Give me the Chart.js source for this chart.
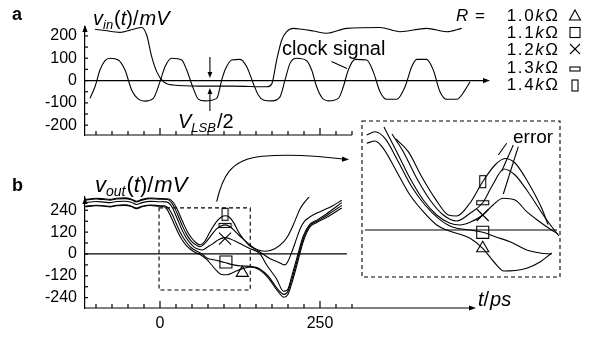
<!DOCTYPE html>
<html><head><meta charset="utf-8">
<script src="https://cdn.jsdelivr.net/npm/chart.js@4.4.1/dist/chart.umd.min.js"></script>
<style>
html,body{margin:0;padding:0;background:#fff;}
#wrap{position:relative;width:596px;height:342px;background:#fff;overflow:hidden;}
canvas{position:absolute;left:0;top:0;}
</style></head><body>
<div id="wrap">
<canvas id="ca" width="596" height="342"></canvas>
<canvas id="cb" width="596" height="342"></canvas>
<canvas id="ci" width="596" height="342"></canvas>
</div>
<script>
// ---------------- DATA ----------------
// time axis (ps) shared by panels a and b
const T_MIN = -117.1875, T_MAX = 512.5;
const timeTicks = [-100,-75,-50,-25,0,25,50,75,100,125,150,175,200,225,250,275,300];
const timeTickLabels = [0, 250];
// panel a : input signal v_in(t) [mV]
const vinT = [-101.6,-85.9,-62.5,-41.7,-28.6,-20.8,-13,-5.2,5.2,20.8,62.5,114.6,166.7,174.5,182.3,190.2,197.9,208.3,221.4,239.6,260.4,291.7,343.8,375,416.7,448,471.4];
const vinV = [230,224,216,230,238,204,107,40,-5,-20,-25,-25,-28,-16,92,182,219,234,230,222,212,234,238,219,234,219,234];
// panel a : clock signal [mV]
const clockT = [-109.4,-101.6,-93.8,-85.9,-78.1,-65.2,-54.7,-44.2,-33.9,-23.4,
  -10.5,0,7.8,18.3,33.9,41.7,52,59.8,70.3,88.6,
  96.4,101.6,112,125,135.5,145.8,153.6,161.4,174.5,187.5,
  195.3,203.1,213.6,229.2,237,244.8,252.7,263,278.6,286.4,
  294.2,304.7,323,333.3,343.8,354.2,369.8,382.8,393.3,401.1,
  416.7,427,437.5,448,463.6,476.6,484.4];
const clockV = [-80,-28,47,89,100,92,47,-43,-83,-92,
  -80,-5,62,100,92,47,-35,-83,-91,-80,
  2,47,92,95,62,-13,-65,-87,-91,-73,
  2,77,100,89,47,-28,-75,-91,-80,-28,
  47,95,92,39,-50,-84,-84,-28,62,95,
  95,47,-50,-84,-84,-43,-5];
const aTicksY = [-200,-150,-100,-50,0,50,100,150,200];
const aLabelsY = [-200,-100,0,100,200];
// panel b : output signal v_out(t) [mV] for R = 1.4, 1.3, 1.2, 1.1, 1.0 kOhm
const r14T = [-117,-100,-88,-78,-68,-55,-45,-37,-28,-15,0,14,20,26,32,38,44,50,56,62,70,78,88,96,102,108,115,125,140,155,165,180,193,200,208,219,226,234];
const r14V = [300,306,303,300,306,308,302,290,300,307,305,302,287,252,205,157,115,85,63,50,70,121,176,203,210,203,172,108,45,20,15,30,66,100,158,249,285,318];
const r13T = [-117,-100,-88,-78,-68,-55,-45,-37,-28,-15,0,12,18,24,30,36,42,48,54,62,70,78,88,96,102,110,118,128,141,156,172,185,195,200,206,213,219,226,234,245,255,270,284];
const r13V = [296,302,299,296,302,304,298,286,296,303,301,299,282,245,196,146,105,75,55,40,58,93,136,155,160,148,122,88,48,11,-26,-45,-60,-40,11,80,139,180,203,225,240,265,295];
const r12T = [-117,-100,-88,-78,-68,-55,-45,-37,-28,-15,0,10,16,22,28,34,40,46,52,58,66,75,83,92,101,110,120,130,141,156,167,182,193,199,206,214,224,234,245,260,284];
const r12V = [282,288,285,282,288,290,284,272,282,289,287,286,272,235,185,135,95,65,42,28,22,40,57,80,90,82,66,48,29,2,-62,-136,-205,-198,-120,-20,100,163,186,220,282];
const r11T = [-117,-100,-88,-78,-68,-55,-45,-37,-28,-15,0,7,13,19,25,31,37,43,49,56,65,73,88,101,115,128,141,156,170,182,194,200,206,214,224,234,245,260,284];
const r11V = [262,268,265,262,268,270,264,252,262,269,265,264,252,218,170,124,86,56,34,18,2,-22,-35,-47,-60,-66,-68,-82,-125,-185,-222,-205,-140,-40,85,155,180,210,267];
const r10T = [-117,-100,-88,-78,-68,-55,-45,-37,-28,-15,0,5,11,17,23,29,35,41,47,55,65,73,80,88,96,105,115,128,141,156,170,183,194,200,206,214,224,234,245,260,284];
const r10V = [259,265,262,259,265,267,261,249,259,266,262,261,245,205,158,112,75,47,27,8,-8,-30,-58,-90,-113,-114,-100,-82,-72,-88,-135,-200,-238,-222,-160,-60,70,147,173,200,253];
const bTicksY = [-240,-180,-120,-60,0,60,120,180,240];
const bLabelsY = [-240,-120,0,120,240];
// markers in panel b (order: 1.4, 1.3, 1.2, 1.1, 1.0 kOhm)
const markT = [101.6,101.6,101.6,103,128.6];
const markV = [218,157,84,-44,-104];
// inset (zoomed view of the dashed box)
const i14T = [23.8,32.4,41.8,51.1,60.4,66.3,75.6,84.5,93.1,100.1,107.1,115.3,125.8,130.2];
const i14V = [200.2,172.3,117.3,69.7,33,30.8,59.4,106.3,143,157.3,147.4,110,47.7,12.1];
const i13T = [21,28.9,38.3,47.6,56.9,66.3,75.6,84.5,91,99.4,107.1,115.3,129.3,137.9];
const i13V = [211.2,172.3,113.7,66,33,19.8,36.7,60,96.8,134.2,121,88,22,-13.2];
const i12T = [15.4,24.3,33.6,42.9,52.3,61.6,68.6,75.6,84.5,91.7,98.7,107.1,115.3,124.6,131.6,137.2];
const i12V = [226.6,172.3,113.7,66,33,14.7,11,16.9,33,55,69.7,66,40.3,17.6,2.2,-8.8];
const i11T = [3.3,9.1,16.1,25.4,34.8,44.1,53.4,62.8,75.6,84.5,93.8,103.6,115.3,124.6,132.8];
const i11V = [209,216.3,201.7,150.3,95.3,55,25.7,7.3,0,-5.1,-15.4,-25.7,-44,-50.6,-52.8];
const i10T = [3.3,9.1,14.9,24.3,33.6,42.9,52.3,59.3,75.6,84.5,92.4,99.4,107.1,115.3,124.6,132.8];
const i10V = [190.7,195.8,179.7,128.3,77,40.3,11,0,-18.3,-40.3,-70.4,-90.2,-89.1,-84.3,-70.4,-50.6];
const insetMarkT = [84.5,84.5,84.5,84.5,84.5];
const insetMarkV = [106.3,60,33,-5.1,-40.3];
// legend
const resistances = ['1.0','1.1','1.2','1.3','1.4'];

// ---------------- HELPERS ----------------
const FONT = '"Liberation Sans", Arial, Helvetica, sans-serif';
const pts = (t, v) => t.map((x, i) => ({x, y: v[i]}));
function mkRectImg(w, h) {
  const c = document.createElement('canvas'); c.width = w + 3; c.height = h + 3;
  const g = c.getContext('2d'); g.strokeStyle = '#000'; g.lineWidth = 1.1; g.strokeRect(1.5, 1.5, w, h); return c;
}
const vRect = mkRectImg(6, 12), hRect = mkRectImg(12, 4);
const markStyles = [vRect, hRect, 'crossRot', 'rect', 'triangle'];
const markRadius = [5, 5, 8.5, 8.5, 7];
function line(ctx, x1, y1, x2, y2) { ctx.beginPath(); ctx.moveTo(x1, y1); ctx.lineTo(x2, y2); ctx.stroke(); }
function arrowHead(ctx, x, y, ang, len = 7, hw = 2.6) {
  ctx.save(); ctx.translate(x, y); ctx.rotate(ang);
  ctx.beginPath(); ctx.moveTo(0, 0); ctx.lineTo(-len, -hw); ctx.lineTo(-len, hw); ctx.closePath(); ctx.fill(); ctx.restore();
}
function rich(ctx, x, y, parts) {
  ctx.textAlign = 'left'; ctx.textBaseline = 'alphabetic';
  for (const p of parts) { ctx.font = p[1]; ctx.fillText(p[0], x, y + (p[2] || 0)); x += ctx.measureText(p[0]).width + (p[3] || 0); }
  return x;
}
function richW(ctx, parts) { let w = 0; for (const p of parts) { ctx.font = p[1]; w += ctx.measureText(p[0]).width + (p[3] || 0); } return w; }
const IT = s => 'italic ' + s + 'px ' + FONT, RM = s => s + 'px ' + FONT;
function lineDS(t, v, extra) {
  return Object.assign({data: pts(t, v), borderColor: '#000', borderWidth: 1.1, pointRadius: 0, cubicInterpolationMode: 'monotone', fill: false}, extra || {});
}
function markDS(t, v) {
  return {type: 'scatter', data: pts(t, v), showLine: false, pointStyle: markStyles, pointRadius: markRadius,
    borderColor: '#000', backgroundColor: 'rgba(0,0,0,0)', pointBorderWidth: 1.1, borderWidth: 1.1};
}
function baseOpts() {
  return {responsive: false, animation: false, devicePixelRatio: 1, events: [],
    plugins: {legend: {display: false}, tooltip: {enabled: false}}};
}
function yAxis(min, max, labels) {
  return {type: 'linear', min, max, afterFit(s) { s.width = 85; },
    afterBuildTicks(s) { s.ticks = labels.map(v => ({value: v})); },
    grid: {display: false, drawTicks: false}, border: {display: true, color: '#000', width: 1.2},
    ticks: {autoSkip: false, color: '#000', font: {family: FONT, size: 16}, padding: 8}};
}
function timeAxisTicks(ctx, xs, yb, xEnd) {
  line(ctx, 85, yb, xEnd, yb);
  for (const t of timeTicks) { const px = xs.getPixelForValue(t); const L = timeTickLabels.includes(t) ? 7 : 4; line(ctx, px, yb, px, yb - L); }
}

// ---------------- PANEL A ----------------
const decorA = {id: 'decorA', afterDraw(chart) {
  const {ctx, chartArea: a, scales: {x, y}} = chart;
  ctx.save(); ctx.strokeStyle = '#000'; ctx.fillStyle = '#000'; ctx.lineWidth = 1.2;
  const y0 = y.getPixelForValue(0);
  line(ctx, a.left, y0, 484, y0); arrowHead(ctx, 490, y0, 0);
  timeAxisTicks(ctx, x, a.bottom, x.getPixelForValue(300));
  for (const v of aTicksY) { const py = y.getPixelForValue(v); line(ctx, a.left, py, a.left + 3, py); }
  arrowHead(ctx, a.left, a.top - 2, -Math.PI / 2);
  // V_LSB/2 arrows
  ctx.lineWidth = 1.1;
  const xa = x.getPixelForValue(78);
  line(ctx, xa, 57, xa, 73); arrowHead(ctx, xa, 78, Math.PI / 2, 6, 2.4);
  line(ctx, xa, 111, xa, 93); arrowHead(ctx, xa, 88, -Math.PI / 2, 6, 2.4);
  // pointer for clock signal
  line(ctx, 331.5, 61.5, 347, 68.5);
  // texts
  ctx.font = 'bold 18px ' + FONT; ctx.textBaseline = 'alphabetic'; ctx.fillText('a', 12, 20);
  rich(ctx, 93, 25, [['v', IT(20)], ['in', IT(13), 4, 1], ['(', RM(20)], ['t', IT(20)], [')', RM(20)], ['/', RM(20), 0, 1], ['mV', IT(20)]]);
  rich(ctx, 178, 128, [['V', IT(20)], ['LSB', IT(13), 4, 1], ['/2', RM(20)]]);
  rich(ctx, 282, 55, [['clock signal', RM(20)]]);
  // legend
  rich(ctx, 456, 21, [['R', IT(17), 0, 2], [' = ', RM(17)]]);
  const rowY = [21, 38, 55, 73, 90];
  resistances.forEach((r, i) => {
    const parts = r.split('').map(c => [c, RM(17), 0, 1.6]).concat([['k', IT(17), 0, 1.6], ['\u03A9', RM(17)]]);
    const w = richW(ctx, parts); rich(ctx, 558 - w, rowY[i], parts);
  });
  ctx.lineWidth = 1.1;
  const mx = 575;
  ctx.beginPath(); ctx.moveTo(mx, 10); ctx.lineTo(mx + 5.5, 20); ctx.lineTo(mx - 5.5, 20); ctx.closePath(); ctx.stroke();
  ctx.strokeRect(mx - 5, 27.5, 10, 10);
  line(ctx, mx - 5, 44, mx + 5, 54); line(ctx, mx - 5, 54, mx + 5, 44);
  ctx.strokeRect(mx - 5, 67, 10, 4);
  ctx.strokeRect(mx - 3, 80, 6, 11);
  ctx.restore();
}};
new Chart(document.getElementById('ca'), {
  type: 'line',
  data: {datasets: [lineDS(vinT, vinV, {clip: false}), lineDS(clockT, clockV, {clip: false})]},
  options: Object.assign(baseOpts(), {
    layout: {padding: {left: 0, right: 108, top: 27, bottom: 207}},
    scales: {x: {type: 'linear', display: false, min: T_MIN, max: T_MAX}, y: yAxis(-244, 240, aLabelsY)}
  }),
  plugins: [decorA]
});

// ---------------- PANEL B ----------------
const decorB = {id: 'decorB', beforeDatasetsDraw(chart) {
  const {ctx, chartArea: a, scales: {x, y}} = chart;
  ctx.save(); ctx.strokeStyle = '#000'; ctx.fillStyle = '#000'; ctx.lineWidth = 1.2;
  const y0 = y.getPixelForValue(0);
  line(ctx, a.left, y0, x.getPixelForValue(292), y0);
  // dashed zoom box
  ctx.lineWidth = 1.1; ctx.setLineDash([4, 3]);
  const bx1 = x.getPixelForValue(-1.5), bx2 = x.getPixelForValue(141), by1 = y.getPixelForValue(253), by2 = y.getPixelForValue(-198);
  ctx.strokeRect(bx1, by1, bx2 - bx1, by2 - by1);
  ctx.setLineDash([]);
  ctx.restore();
}, afterDraw(chart) {
  const {ctx, chartArea: a, scales: {x, y}} = chart;
  ctx.save(); ctx.strokeStyle = '#000'; ctx.fillStyle = '#000'; ctx.lineWidth = 1.2;
  timeAxisTicks(ctx, x, a.bottom, 470); arrowHead(ctx, 476, a.bottom, 0);
  for (const v of bTicksY) { const py = y.getPixelForValue(v); line(ctx, a.left, py, a.left + 3, py); }
  arrowHead(ctx, a.left, a.top, -Math.PI / 2);
  // curved arrow to inset
  ctx.lineWidth = 1.1;
  ctx.beginPath(); ctx.moveTo(216.7, 201.7);
  ctx.bezierCurveTo(222, 178, 230, 159, 262, 156.2);
  ctx.bezierCurveTo(290, 154, 320, 156, 343, 159); ctx.stroke();
  arrowHead(ctx, 349, 159.5, 0.06, 7, 2.6);
  ctx.font = 'bold 18px ' + FONT; ctx.textBaseline = 'alphabetic'; ctx.fillText('b', 12, 191);
  rich(ctx, 95, 192, [['v', IT(22)], ['out', IT(14), 4, 1], ['(', RM(22)], ['t', IT(22)], [')', RM(22)], ['/', RM(22), 0, 1], ['mV', IT(22)]]);
  rich(ctx, 478, 306, [['t', IT(20)], ['/', RM(20), 0, 1], ['ps', IT(20)]]);
  ctx.restore();
}};
new Chart(document.getElementById('cb'), {
  type: 'line',
  data: {datasets: [lineDS(r14T, r14V), lineDS(r13T, r13V), lineDS(r12T, r12V), lineDS(r11T, r11V), lineDS(r10T, r10V), markDS(markT, markV)]},
  options: Object.assign(baseOpts(), {
    layout: {padding: {left: 0, right: 108, top: 197, bottom: 0}},
    scales: {
      x: {type: 'linear', min: T_MIN, max: T_MAX, afterFit(s) { s.height = 34; },
        afterBuildTicks(s) { s.ticks = timeTickLabels.map(v => ({value: v})); },
        grid: {display: false, drawTicks: false}, border: {display: false},
        ticks: {autoSkip: false, maxRotation: 0, color: '#000', font: {family: FONT, size: 16}, padding: 6}},
      y: yAxis(-297, 313, bLabelsY)
    }
  }),
  plugins: [decorB]
});

// ---------------- INSET ----------------
const decorI = {id: 'decorI', beforeDatasetsDraw(chart) {
  const {ctx, chartArea: a, scales: {x, y}} = chart;
  ctx.save(); ctx.strokeStyle = '#000'; ctx.fillStyle = '#000'; ctx.lineWidth = 1.1;
  ctx.setLineDash([4, 3]); ctx.strokeRect(a.left, a.top, a.right - a.left, a.bottom - a.top); ctx.setLineDash([]);
  ctx.lineWidth = 1.2;
  const y0 = y.getPixelForValue(0); line(ctx, a.left + 3, y0, a.right - 3, y0);
  ctx.restore();
}, afterDraw(chart) {
  const {ctx} = chart;
  ctx.save(); ctx.strokeStyle = '#000'; ctx.fillStyle = '#000'; ctx.lineWidth = 1.1;
  rich(ctx, 513, 143, [['error', RM(19)]]);
  line(ctx, 506.7, 143.3, 498.3, 155); line(ctx, 513.3, 145, 501.7, 171); line(ctx, 518.3, 146.7, 503.3, 194);
  ctx.restore();
}};
new Chart(document.getElementById('ci'), {
  type: 'line',
  data: {datasets: [lineDS(i14T, i14V), lineDS(i13T, i13V), lineDS(i12T, i12V), lineDS(i11T, i11V), lineDS(i10T, i10V), markDS(insetMarkT, insetMarkV)]},
  options: Object.assign(baseOpts(), {
    layout: {padding: {left: 362, right: 36, top: 121, bottom: 65}},
    scales: {x: {type: 'linear', display: false, min: 0, max: 138.6}, y: {type: 'linear', display: false, min: -103.4, max: 239.8}}
  }),
  plugins: [decorI]
});
</script>
</body></html>
